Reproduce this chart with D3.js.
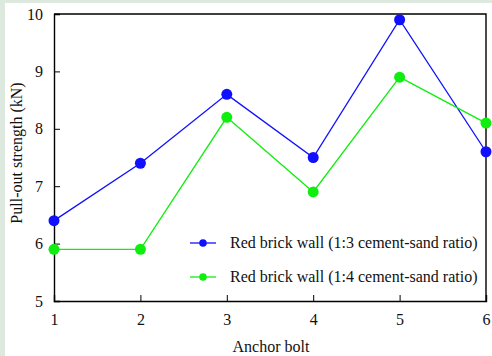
<!DOCTYPE html>
<html>
<head>
<meta charset="utf-8">
<script src="https://cdn.jsdelivr.net/npm/d3@7"></script>
<style>
  html, body { margin: 0; padding: 0; background: #ffffff; }
  svg { display: block; }
  text { font-family: "Liberation Serif", "Times New Roman", serif; fill: #111; }
</style>
</head>
<body>
<svg id="chart" width="492" height="356"></svg>
<script>
// Pull-out strength of anchor bolts in red brick walls
const bolts = [1, 2, 3, 4, 5, 6];
const ratio13 = [6.4, 7.4, 8.6, 7.5, 9.9, 7.6];
const ratio14 = [5.9, 5.9, 8.2, 6.9, 8.9, 8.1];
const seriesNames = ["Red brick wall (1:3 cement-sand ratio)", "Red brick wall (1:4 cement-sand ratio)"];
const yTicks = [5, 6, 7, 8, 9, 10];

const W = 492, H = 356;
const margin = { left: 54, right: 6, top: 14, bottom: 55 };
const svg = d3.select("#chart");

// soft green page edge
svg.append("rect").attr("x", 0).attr("y", 0).attr("width", W).attr("height", H).attr("fill", "#dde8df");
svg.append("rect").attr("x", 5).attr("y", 3).attr("width", W - 5).attr("height", H - 3).attr("fill", "#ffffff");

const x = d3.scaleLinear().domain([1, 6]).range([margin.left, W - margin.right]);
const y = d3.scaleLinear().domain([5, 10]).range([H - margin.bottom, margin.top]);

const xAxis = d3.axisBottom(x).tickValues(bolts).tickSize(-6).tickPadding(13).tickFormat(d3.format("d"));
const yAxis = d3.axisLeft(y).tickValues(yTicks).tickSize(-6).tickPadding(11).tickFormat(d3.format("d"));

const gx = svg.append("g").attr("transform", `translate(0,${y(5)})`).call(xAxis);
const gy = svg.append("g").attr("transform", `translate(${x(1)},0)`).call(yAxis);
[gx, gy].forEach(g => {
  g.select(".domain").attr("stroke", "#000").attr("stroke-width", 1.4);
  g.selectAll(".tick line").attr("stroke", "#000").attr("stroke-width", 1);
  g.selectAll(".tick text").style("font-family", "Liberation Serif, serif").style("font-size", "16px").attr("fill", "#111");
});

// top and right frame
svg.append("path")
  .attr("d", `M${x(1)},${y(10)}H${x(6)}V${y(5)}`)
  .attr("fill", "none").attr("stroke", "#000").attr("stroke-width", 1.4);

const series = [
  { values: ratio13, color: "#1010ff", name: seriesNames[0] },
  { values: ratio14, color: "#10ee10", name: seriesNames[1] }
];

const line = d3.line().x((d, i) => x(bolts[i])).y(d => y(d));

series.forEach(s => {
  svg.append("path").datum(s.values).attr("d", line)
    .attr("fill", "none").attr("stroke", s.color).attr("stroke-width", 1.3);
  svg.append("g").selectAll("circle").data(s.values).join("circle")
    .attr("cx", (d, i) => x(bolts[i])).attr("cy", d => y(d)).attr("r", 5.5).attr("fill", s.color);
});

// legend
const legend = svg.append("g");
series.forEach((s, i) => {
  const ly = 243 + i * 34;
  legend.append("line").attr("x1", 190).attr("x2", 216).attr("y1", ly).attr("y2", ly)
    .attr("stroke", s.color).attr("stroke-width", 1.3);
  legend.append("circle").attr("cx", 203).attr("cy", ly).attr("r", 3.8).attr("fill", s.color);
  legend.append("text").attr("x", 230).attr("y", ly + 5).style("font-size", "16px").text(s.name);
});

// axis titles
svg.append("text").attr("x", 271).attr("y", 352).attr("text-anchor", "middle")
  .style("font-size", "16px").text("Anchor bolt");
svg.append("text").attr("transform", `translate(22,153) rotate(-90)`)
  .attr("text-anchor", "middle").style("font-size", "16px").text("Pull-out strength (kN)");
</script>
</body>
</html>
